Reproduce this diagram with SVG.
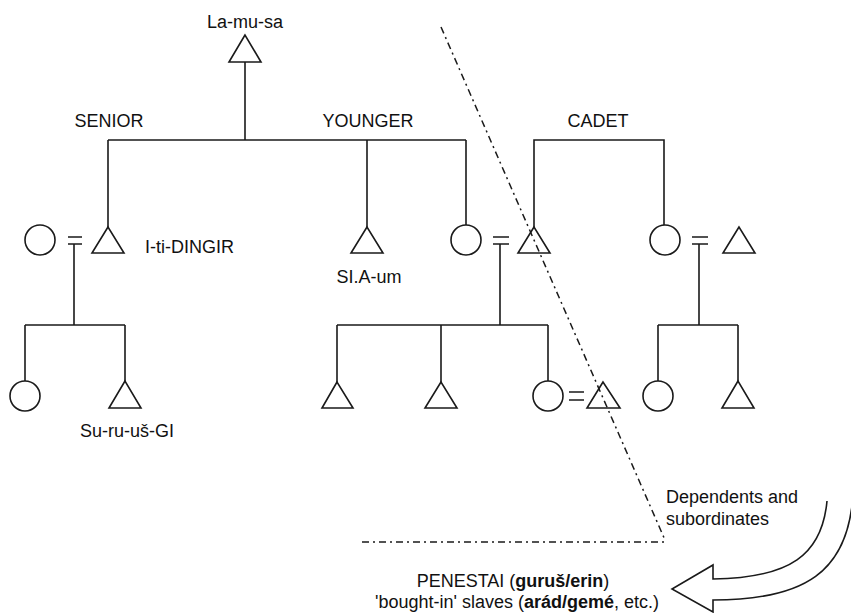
<svg xmlns="http://www.w3.org/2000/svg" width="851" height="613" viewBox="0 0 851 613">
<defs>
<style>
.s{fill:none;stroke:#1a1a1a;stroke-width:1.6;stroke-linejoin:miter}
.a{fill:#fff;stroke:#1a1a1a;stroke-width:1.6;stroke-linejoin:miter}
.l{fill:none;stroke:#1a1a1a;stroke-width:1.6}
.dd{fill:none;stroke:#1a1a1a;stroke-width:1.5;stroke-dasharray:7 4 2 4}
.t{font-family:"Liberation Sans",Arial,sans-serif;font-size:18px;fill:#111}
.b{font-weight:bold}
</style>
</defs>
<rect width="851" height="613" fill="#fff"/>
<g id="connectors">
<path class="l" d="M245,62V140M108,140H466M108,140V227M367,140V227M466,140V225"/>
<path class="l" d="M534,227V140H664V225"/>
<path class="l" d="M68,237H82M68,244H82M74,244V325M25,325H125M25,325V381M125,325V381"/>
<path class="l" d="M493,237H509M493,244H509M500,244V325M337,325H548M337,325V382M441,325V382M548,325V381"/>
<path class="l" d="M692,237H708M692,244H708M699,244V325M658,325H738M658,325V381M738,325V381"/>
<path class="l" d="M569,392H584M569,400H584"/>
<path class="dd" d="M441,27L665,540"/>
<path class="dd" d="M362,542H665"/>
</g>
<g id="lamusa"><polygon class="s" points="245,35 229,62 261,62"/><text class="t" x="245" y="28" text-anchor="middle">La-mu-sa</text></g>
<g id="senior-label"><text class="t" x="109" y="127" text-anchor="middle">SENIOR</text></g>
<g id="younger-label"><text class="t" x="368" y="127" text-anchor="middle">YOUNGER</text></g>
<g id="cadet-label"><text class="t" x="598" y="127" text-anchor="middle">CADET</text></g>
<g id="senior-wife"><circle class="s" cx="40" cy="240" r="15"/></g>
<g id="iti-dingir"><polygon class="s" points="108,227 92,253 124,253"/><text class="t" x="145" y="253">I-ti-DINGIR</text></g>
<g id="si-a-um"><polygon class="s" points="367,227 351,253 383,253"/><text class="t" x="369" y="283" text-anchor="middle">SI.A-um</text></g>
<g id="younger-sister"><circle class="s" cx="466" cy="240" r="15"/></g>
<g id="cadet-husband"><polygon class="s" points="534,227 518,253 550,253"/></g>
<g id="cadet-sister"><circle class="s" cx="665" cy="240" r="15"/></g>
<g id="cadet-sister-husband"><polygon class="s" points="739,227 723,253 755,253"/></g>
<g id="senior-daughter"><circle class="s" cx="25" cy="396" r="15"/></g>
<g id="surus-gi"><polygon class="s" points="125,381 109,408 141,408"/><text class="t" x="127" y="437" text-anchor="middle">Su-ru-uš-GI</text></g>
<g id="younger-son-1"><polygon class="s" points="337,382 322,408 353,408"/></g>
<g id="younger-son-2"><polygon class="s" points="441,382 425,408 457,408"/></g>
<g id="younger-daughter"><circle class="s" cx="548" cy="396" r="15"/></g>
<g id="younger-daughter-husband"><polygon class="s" points="603,382 587,408 620,408"/></g>
<g id="cadet-daughter"><circle class="s" cx="658" cy="396" r="15"/></g>
<g id="cadet-son"><polygon class="s" points="738,381 722,408 754,408"/></g>
<g id="dependents"><text class="t" x="666" y="503">Dependents and</text><text class="t" x="666" y="525">subordinates</text></g>
<g id="arrow"><path class="a" d="M827,501C822,555 790,578 713,579L713,565L672,589L713,612L713,600C805,600 848,572 853,495"/></g>
<g id="penestai"><text class="t" x="513" y="587" text-anchor="middle">PENESTAI (<tspan class="b">guruš/erin</tspan>)</text><text class="t" x="517" y="608" text-anchor="middle">'bought-in' slaves (<tspan class="b">arád/gemé</tspan>, etc.)</text></g>
</svg>
